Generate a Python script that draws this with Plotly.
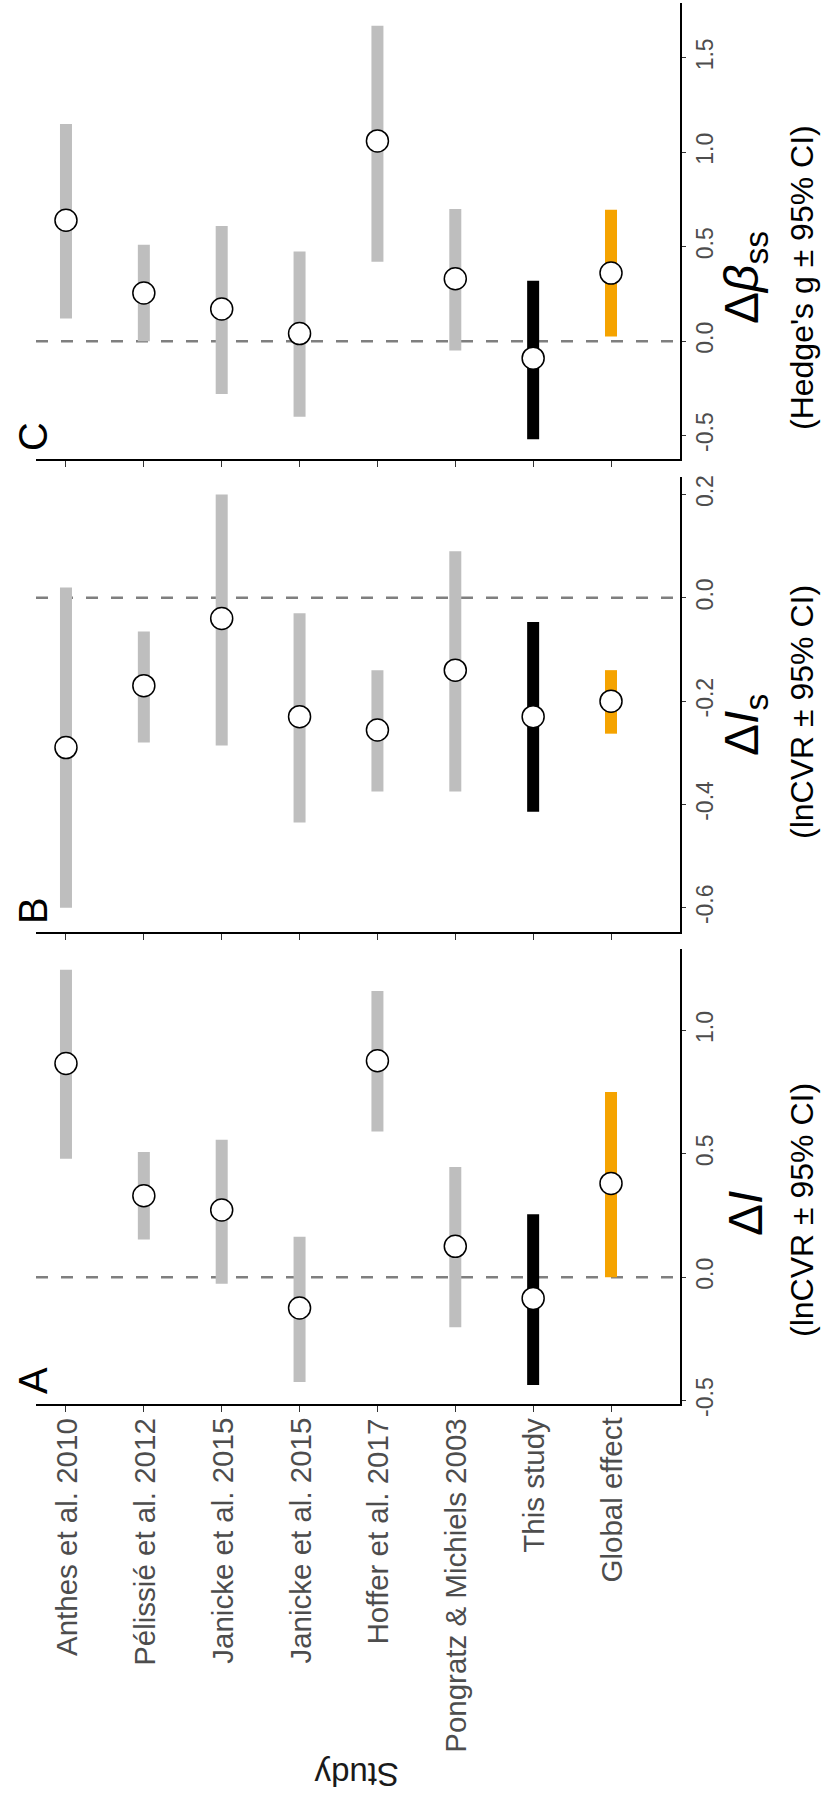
import plotly.graph_objects as go

# ---------------- data ----------------
studies = ["Anthes et al. 2010", "Pélissié et al. 2012", "Janicke et al. 2015",
           "Janicke et al. 2015", "Hoffer et al. 2017", "Pongratz & Michiels 2003",
           "This study", "Global effect"]

# Panel A: ΔI (lnCVR ± 95% CI)
est_A = [0.866, 0.33, 0.272, -0.125, 0.877, 0.125, -0.086, 0.38]
lo_A = [0.48, 0.153, -0.027, -0.425, 0.59, -0.203, -0.437, 0.0]
hi_A = [1.246, 0.507, 0.557, 0.164, 1.16, 0.446, 0.255, 0.75]

# Panel B: ΔIs (lnCVR ± 95% CI)
est_B = [-0.29, -0.17, -0.04, -0.23, -0.256, -0.14, -0.23, -0.20]
lo_B = [-0.60, -0.28, -0.286, -0.435, -0.375, -0.375, -0.414, -0.263]
hi_B = [0.02, -0.065, 0.20, -0.03, -0.14, 0.09, -0.047, -0.14]

# Panel C: Δβss (Hedge's g ± 95% CI)
est_C = [0.64, 0.255, 0.17, 0.04, 1.06, 0.33, -0.09, 0.36]
lo_C = [0.12, 0.0, -0.28, -0.40, 0.42, -0.05, -0.52, 0.025]
hi_C = [1.15, 0.51, 0.61, 0.475, 1.67, 0.70, 0.32, 0.695]

ticks_A = [-0.5, 0.0, 0.5, 1.0]
ticks_B = [-0.6, -0.4, -0.2, 0.0, 0.2]
ticks_C = [-0.5, 0.0, 0.5, 1.0, 1.5]

# ---------------- styles ----------------
W, H = 821, 1796
FONT = "Liberation Sans, Arial, sans-serif"
GREY = "#BEBEBE"
bar_colors = [GREY] * 6 + ["#000000", "#F5A300"]
positions = list(range(len(studies)))


def px_x(p):
    return p / W


def px_y(p):
    return 1 - p / H


panels = [
    dict(key="", est=est_C, lo=lo_C, hi=hi_C, ticks=ticks_C, top=3, bottom=459,
         rng=[-0.624, 1.79], letter="C", letter_y=437, showlab=False,
         t1="Δ<i>β</i><sub>ss</sub>", t2="(Hedge's g ± 95% CI)", t1y=278, t2y=278),
    dict(key="2", est=est_B, lo=lo_B, hi=hi_B, ticks=ticks_B, top=477, bottom=932,
         rng=[-0.647, 0.234], letter="B", letter_y=911, showlab=False,
         t1="Δ<i>I</i><sub>s</sub>", t2="(lnCVR ± 95% CI)", t1y=725, t2y=712),
    dict(key="3", est=est_A, lo=lo_A, hi=hi_A, ticks=ticks_A, top=949, bottom=1404,
         rng=[-0.514, 1.33], letter="A", letter_y=1381, showlab=True,
         t1="Δ<i>I</i>", t2="(lnCVR ± 95% CI)", t1y=1214, t2y=1210),
]

fig = go.Figure()
shapes = []
annotations = []
X_LEFT, X_RIGHT = 36, 680

for p in panels:
    xa = "x" + p["key"]
    ya = "y" + p["key"]
    # CI bars
    for i in positions:
        fig.add_trace(go.Scatter(
            x=[positions[i], positions[i]], y=[p["lo"][i], p["hi"][i]],
            mode="lines", line=dict(color=bar_colors[i], width=12),
            xaxis=xa, yaxis=ya, showlegend=False, hoverinfo="skip"))
    # point estimates
    fig.add_trace(go.Scatter(
        x=positions, y=p["est"], mode="markers",
        marker=dict(symbol="circle", size=22, color="white",
                    line=dict(color="black", width=1.5)),
        xaxis=xa, yaxis=ya, showlegend=False, hoverinfo="skip"))

    xname = "xaxis" + p["key"]
    yname = "yaxis" + p["key"]
    fig.layout[xname] = dict(
        domain=[px_x(X_LEFT), px_x(X_RIGHT)], anchor=ya,
        range=[-0.385, 7.886], tickmode="array", tickvals=positions,
        showticklabels=False, ticks="outside", ticklen=6, tickwidth=1.2,
        tickcolor="#333333", showline=True, linecolor="black", linewidth=1.5,
        showgrid=False, zeroline=False, automargin=False)
    fig.layout[yname] = dict(
        domain=[px_y(p["bottom"]), px_y(p["top"])], anchor=xa, side="right",
        range=p["rng"], tickmode="array", tickvals=p["ticks"],
        ticktext=[f"{v:.1f}" for v in p["ticks"]],
        ticks="outside", ticklen=4, tickwidth=1.2, tickcolor="#333333",
        showline=True, linecolor="black", linewidth=1.5,
        showgrid=False, zeroline=False, tickangle=-90,
        tickfont=dict(family=FONT, size=23, color="#4D4D4D"), automargin=False)

    # zero reference line
    shapes.append(dict(type="line", xref=xa + " domain", x0=0, x1=1,
                       yref=ya, y0=0, y1=0, layer="below",
                       line=dict(color="#7F7F7F", width=2.5, dash="12px,13px")))

    # study labels under the bottom panel (rotated, anchored on the axis scale)
    if p["showlab"]:
        for i, s in enumerate(studies):
            annotations.append(dict(
                text=s, x=positions[i], xref=xa, y=px_y(p["bottom"] + 12),
                yref="paper", showarrow=False, textangle=-90,
                xanchor="center", yanchor="top",
                font=dict(family=FONT, size=29.5, color="#4D4D4D")))

    # panel letter
    annotations.append(dict(text=p["letter"], x=px_x(33), y=px_y(p["letter_y"]),
                            xref="paper", yref="paper", showarrow=False,
                            textangle=-90, xanchor="center", yanchor="middle",
                            font=dict(family=FONT, size=40, color="black")))
    # axis titles
    annotations.append(dict(text=p["t1"], x=px_x(745), y=px_y(p["t1y"]),
                            xref="paper", yref="paper", showarrow=False,
                            textangle=-90, xanchor="center", yanchor="middle",
                            font=dict(family=FONT, size=48, color="black")))
    annotations.append(dict(text=p["t2"], x=px_x(802), y=px_y(p["t2y"]),
                            xref="paper", yref="paper", showarrow=False,
                            textangle=-90, xanchor="center", yanchor="middle",
                            font=dict(family=FONT, size=32, color="black")))

annotations.append(dict(text="Study", x=px_x(357), y=px_y(1775),
                        xref="paper", yref="paper", showarrow=False,
                        textangle=180, xanchor="center", yanchor="middle",
                        font=dict(family=FONT, size=33, color="#1A1A1A")))

fig.update_layout(
    width=W, height=H, margin=dict(l=0, r=0, t=0, b=0),
    paper_bgcolor="white", plot_bgcolor="white",
    shapes=shapes, annotations=annotations, showlegend=False,
)

fig.write_html("out.html")
